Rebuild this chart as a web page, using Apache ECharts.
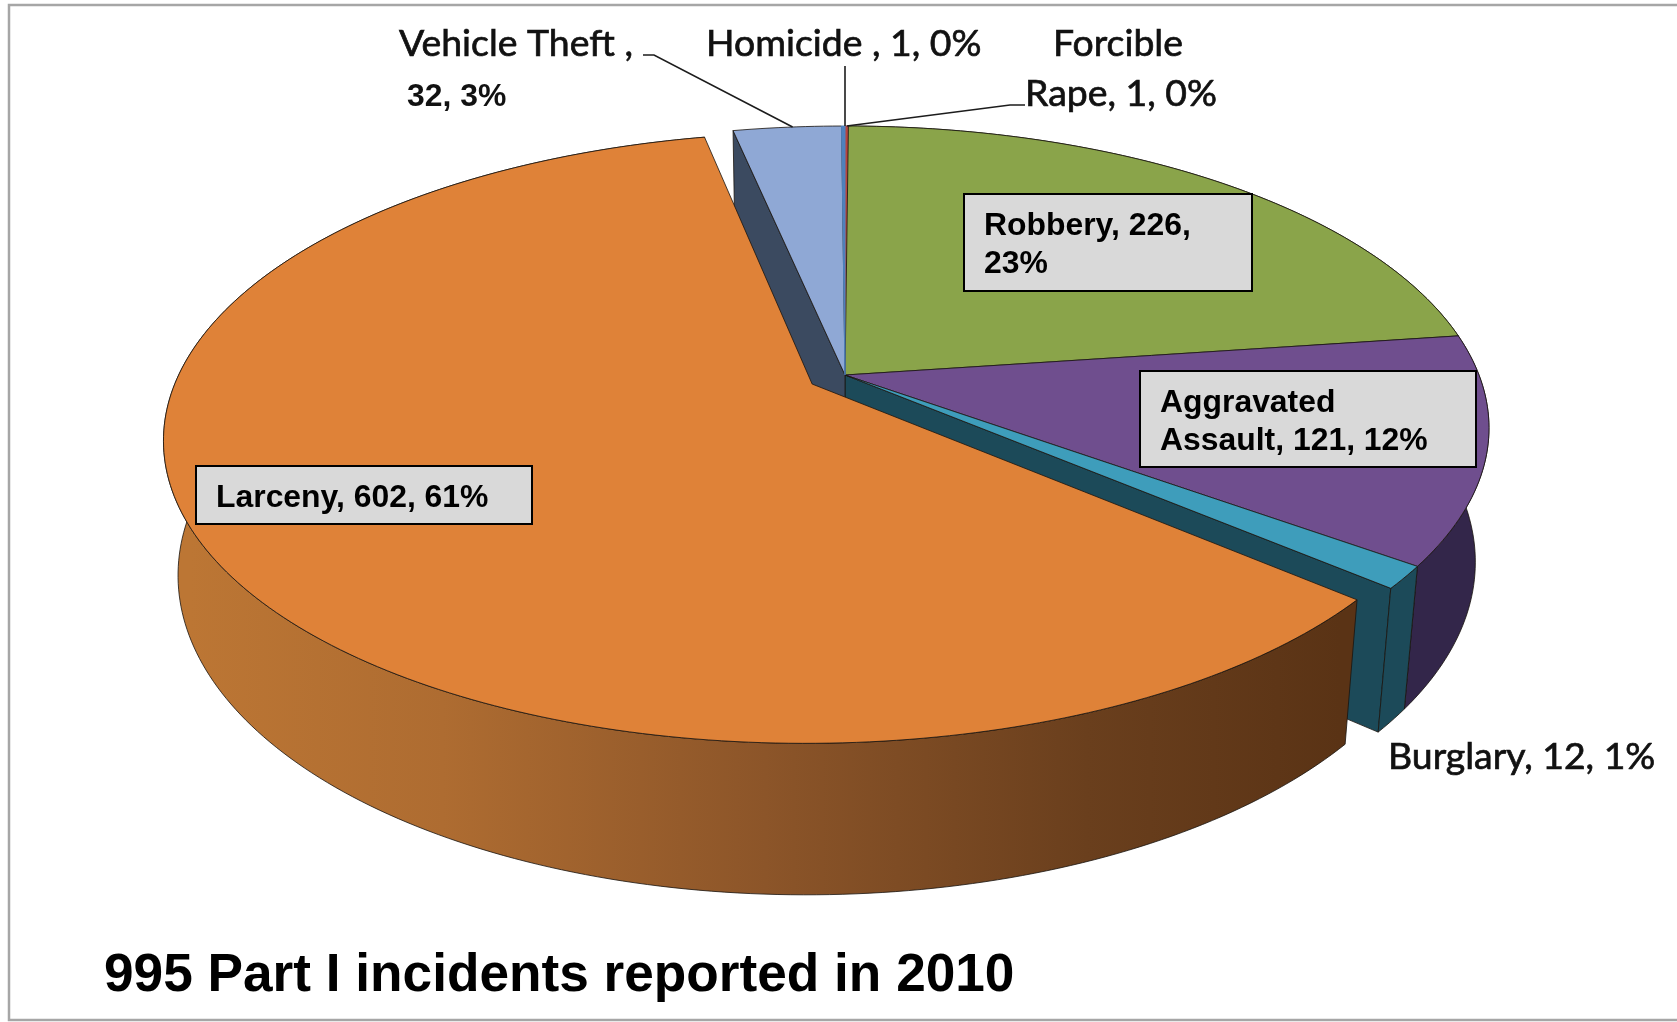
<!DOCTYPE html>
<html>
<head>
<meta charset="utf-8">
<style>html,body{margin:0;padding:0;background:#fff}#c{width:1677px;height:1022px}</style>
<script src="https://cdn.jsdelivr.net/npm/echarts@6/dist/echarts.min.js"></script>
</head>
<body>
<div id="c"></div>
<script>
// ---- data (clockwise from twelve o'clock) ----
const categories = ['Forcible Rape', 'Robbery', 'Aggravated Assault', 'Burglary', 'Larceny', 'Vehicle Theft', 'Homicide'];
const values = [1, 226, 121, 12, 602, 32, 1];
const percents = [0, 23, 12, 1, 61, 3, 0];
const titleText = '995 Part I incidents reported in 2010';
const explodedCategories = ['Larceny'];

// ---- styling ----
const topColors = ['#B8453F', '#8AA44A', '#6F4E8E', '#3E9DBB', '#DF8238', '#8FA8D5', '#4F81BD'];
const wallColors = ['#5c2220', '#45532a', '#33264A', '#1C4A59', '#8A5528', '#3B4A60', '#27405e'];

// ---- perspective model of the tilted disc ----
const CX = 845, CY = 375, RX = 634, RY = 292.7, TILT = 0.1755, DROP = 0.021, DEPTH = 135, EXPLODE = 0.06;
const total = values.reduce((a, b) => a + b, 0);

function project(u, v, low) {
  const w = 1 + TILT * v + (low ? DROP : 0);
  return [CX + RX * u / w, CY + (-RY * v + (low ? DEPTH : 0)) / w];
}
function sliceGeom(i) {
  let before = 0;
  for (let k = 0; k < i; k++) before += values[k];
  const a0 = before / total * 2 * Math.PI;
  const a1 = (before + values[i]) / total * 2 * Math.PI;
  const mid = (a0 + a1) / 2;
  const e = explodedCategories.indexOf(categories[i]) >= 0 ? EXPLODE : 0;
  return {a0, a1, du: e * Math.sin(mid), dv: e * Math.cos(mid)};
}
function rim(g, low, reverse) {
  const n = Math.max(2, Math.ceil((g.a1 - g.a0) / (Math.PI / 180)));
  const pts = [];
  for (let k = 0; k <= n; k++) {
    const a = g.a0 + (g.a1 - g.a0) * k / n;
    pts.push(project(Math.sin(a) + g.du, Math.cos(a) + g.dv, low));
  }
  return reverse ? pts.reverse() : pts;
}
const isExploded = i => explodedCategories.indexOf(categories[i]) >= 0;
const edgeStroke = 'rgba(25,20,15,0.8)';

function poly(points, fill, z2, stroke) {
  return {type: 'polygon', z2: z2, shape: {points: points},
    style: {fill: fill, stroke: stroke === undefined ? edgeStroke : stroke, lineWidth: 1, lineJoin: 'round'}};
}
function renderSlice(params, api) {
  const i = api.value(0);
  const g = sliceGeom(i);
  const n = categories.length;
  const base = isExploded(i) ? 100 : 0;
  const kids = [];
  const apexT = project(g.du, g.dv, false), apexB = project(g.du, g.dv, true);
  const thin = values[i] < 5;
  // cut faces beside the exploded slice
  if (isExploded((i + 1) % n)) {
    const t = rim(g, false), b = rim(g, true);
    kids.push(poly([apexT, t[t.length - 1], b[b.length - 1], apexB], wallColors[i], base + i));
  }
  if (isExploded((i + n - 1) % n)) {
    const t = rim(g, false), b = rim(g, true);
    kids.push(poly([apexT, t[0], b[0], apexB], wallColors[i], base + i));
  }
  // outer wall, only for slices that reach the near side of the disc
  let wallFill = wallColors[i];
  if (isExploded(i)) {
    wallFill = {type: 'linear', x: 190, y: 0, x2: 1340, y2: 0, global: true, colorStops: [
      {offset: 0, color: '#BC7634'}, {offset: 0.22, color: '#AE6C31'}, {offset: 0.5, color: '#8C5529'},
      {offset: 0.78, color: '#6A3F1D'}, {offset: 1, color: '#5A3315'}]};
  }
  if (Math.min(Math.cos(g.a0), Math.cos(g.a1)) < 0.2) {
    kids.push(poly(rim(g, false).concat(rim(g, true, true)), wallFill, base + i + 10));
  }
  // top face
  kids.push(poly([apexT].concat(rim(g, false)), topColors[i], base + i + 40, thin ? topColors[i] : edgeStroke));
  return {type: 'group', children: kids};
}

// ---- leader lines start on the rim of their slice ----
function rimPoint(name, frac) {
  const i = categories.indexOf(name), g = sliceGeom(i);
  const a = g.a0 + (g.a1 - g.a0) * frac;
  return project(Math.sin(a), Math.cos(a), false);
}
function leader(points) {
  return {type: 'polyline', z: 50, shape: {points: points}, style: {stroke: '#1c1c1c', lineWidth: 1.6, fill: null}};
}
const arial = 'bold 31.9px "Liberation Sans", Arial, sans-serif';
function boxLabel(x, y, w, h, tx, lines) {
  const lh = 38;
  const els = [{type: 'rect', z: 60, shape: {x: x, y: y, width: w, height: h},
    style: {fill: '#D9D9D9', stroke: '#000', lineWidth: 2}}];
  lines.forEach((t, k) => els.push({type: 'text', z: 61, x: tx, y: y + h / 2 + 3 + (k - (lines.length - 1) / 2) * lh,
    style: {text: t, fill: '#000', font: arial, textVerticalAlign: 'middle', textAlign: 'left'}}));
  return els;
}
function plainLabel(x, y, t, font, heavy) {
  return {type: 'text', z: 61, x: x, y: y, style: {text: t, fill: '#111', font: font, textVerticalAlign: 'middle', textAlign: 'left',
    stroke: heavy ? '#111' : null, lineWidth: heavy ? 0.7 : 0}};
}
const calibri = '37.4px Lato, "Open Sans", sans-serif';
const val = n => values[categories.indexOf(n)], pct = n => percents[categories.indexOf(n)];
const homicideRim = rimPoint('Homicide', 1);

const graphicEls = [
  {type: 'rect', z: 0, shape: {x: 9, y: 5, width: 1690, height: 1015}, style: {fill: 'none', stroke: '#A6A6A6', lineWidth: 2.5}},
  leader([[643, 55], [654, 55], rimPoint('Vehicle Theft', 0.55)]),
  leader([[homicideRim[0], 66], homicideRim]),
  leader([[1025, 105], [1010, 105], rimPoint('Forcible Rape', 0.5)]),
  ...boxLabel(964, 194, 288, 97, 984, ['Robbery, ' + val('Robbery') + ',', pct('Robbery') + '%']),
  ...boxLabel(1140, 371, 336, 96, 1160, ['Aggravated', 'Assault, ' + val('Aggravated Assault') + ', ' + pct('Aggravated Assault') + '%']),
  ...boxLabel(196, 466, 336, 58, 216, ['Larceny, ' + val('Larceny') + ', ' + pct('Larceny') + '%']),
  plainLabel(399, 44, 'Vehicle Theft ,', calibri, true),
  plainLabel(407, 97, val('Vehicle Theft') + ', ' + pct('Vehicle Theft') + '%', arial),
  plainLabel(706, 44, 'Homicide , ' + val('Homicide') + ', ' + pct('Homicide') + '%', calibri, true),
  plainLabel(1053, 44, 'Forcible', calibri, true),
  plainLabel(1025, 94, 'Rape, ' + val('Forcible Rape') + ', ' + pct('Forcible Rape') + '%', calibri, true),
  plainLabel(1388, 757, 'Burglary, ' + val('Burglary') + ', ' + pct('Burglary') + '%', calibri, true)
];

const chart = echarts.init(document.getElementById('c'), null, {renderer: 'canvas'});
chart.setOption({
  animation: false,
  backgroundColor: '#ffffff',
  title: {text: titleText, left: 104, top: 948, padding: 0,
    textStyle: {fontFamily: '"Liberation Sans", Arial, sans-serif', fontWeight: 'bold', fontSize: 53.2, color: '#000', lineHeight: 56}},
  graphic: {elements: graphicEls},
  series: [{
    type: 'custom',
    coordinateSystem: 'none',
    silent: true,
    clip: false,
    renderItem: renderSlice,
    data: categories.map((c, i) => [i, values[i]])
  }]
});
</script>
</body>
</html>
